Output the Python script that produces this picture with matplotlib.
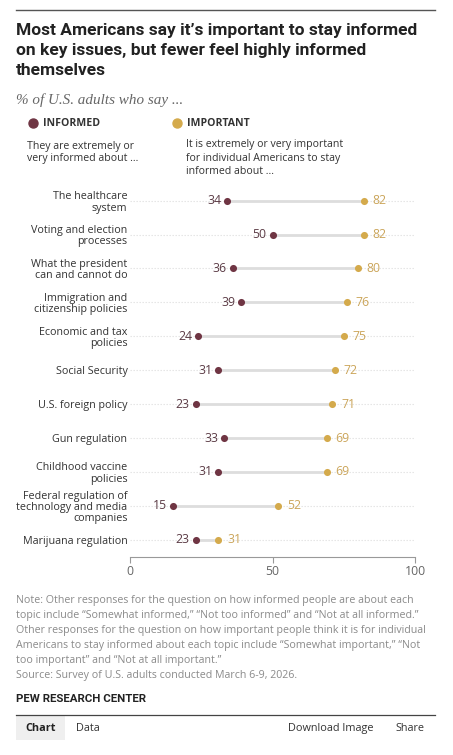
import matplotlib
matplotlib.use("Agg")
import matplotlib.pyplot as plt
from matplotlib.lines import Line2D
from matplotlib.patches import Rectangle

categories = [
    "The healthcare\nsystem",
    "Voting and election\nprocesses",
    "What the president\ncan and cannot do",
    "Immigration and\ncitizenship policies",
    "Economic and tax\npolicies",
    "Social Security",
    "U.S. foreign policy",
    "Gun regulation",
    "Childhood vaccine\npolicies",
    "Federal regulation of\ntechnology and media\ncompanies",
    "Marijuana regulation",
]
informed = [34, 50, 36, 39, 24, 31, 23, 33, 31, 15, 23]
important = [82, 82, 80, 76, 75, 72, 71, 69, 69, 52, 31]
x_ticks = [0, 50, 100]

C_INF = "#6f3543"
C_IMP = "#d4aa4c"
C_INF_TXT = "#5b3b45"
C_IMP_TXT = "#cba55a"

BODY = ["Open Sans", "DejaVu Sans"]
HEAD = ["Roboto", "DejaVu Sans"]
plt.rcParams["font.family"] = BODY

W, H = 453, 755
fig = plt.figure(figsize=(W / 100, H / 100), dpi=100)
fig.patch.set_facecolor("white")
renderer = fig.canvas.get_renderer()


def fx(x):
    return x / W


def fy(y):
    return 1 - y / H


def fit(s, target_px, base=8.0, **kw):
    t = fig.text(0, 0, s, fontsize=base, **kw)
    w = t.get_window_extent(renderer).width
    t.remove()
    return base * target_px / w


def T(x, y, s, **kw):
    kw.setdefault("va", "center")
    kw.setdefault("ha", "left")
    return fig.text(fx(x), fy(y), s, **kw)


# top rule
fig.add_artist(Line2D([fx(16), fx(435)], [fy(10), fy(10)], color="#555555", lw=1.0))

# title
title_lines = ["Most Americans say it\u2019s important to stay informed",
               "on key issues, but fewer feel highly informed",
               "themselves"]
ts = fit(title_lines[0], 401, family=HEAD, fontweight="bold")
for i, ln in enumerate(title_lines):
    T(15.5, 30.5 + i * 20, ln, fontsize=ts, fontweight="bold", family=HEAD, color="#222222")

# subtitle
sub = "% of U.S. adults who say ..."
sfam = ["Liberation Serif", "DejaVu Serif"]
ss = fit(sub, 167, family=sfam, style="italic")
T(16, 100, sub, fontsize=ss, style="italic", family=sfam, color="#666666")

# legend
ls = fit("INFORMED", 57, fontweight="bold")
fig.add_artist(Line2D([fx(33)], [fy(123)], marker="o", markersize=6.5, color=C_INF, lw=0))
T(43, 123, "INFORMED", fontsize=ls, fontweight="bold", color="#333333")
fig.add_artist(Line2D([fx(177)], [fy(123)], marker="o", markersize=6.5, color=C_IMP, lw=0))
T(187, 123, "IMPORTANT", fontsize=ls, fontweight="bold", color="#333333")
ds = fit("It is extremely or very important", 159)
T(27, 146, "They are extremely or", fontsize=ds, color="#333333")
T(27, 159, "very informed about ...", fontsize=ds, color="#333333")
T(186, 145, "It is extremely or very important", fontsize=ds, color="#333333")
T(186, 158, "for individual Americans to stay", fontsize=ds, color="#333333")
T(186, 172, "informed about ...", fontsize=ds, color="#333333")

# main axes
top_px, bot_px = 183.7, 556.7
ax = fig.add_axes([fx(130), fy(bot_px), (415 - 130) / W, (bot_px - top_px) / H])
n = len(categories)
ys = list(range(n))
ax.set_xlim(0, 100)
ax.set_ylim(n - 0.5, -0.5)

ax.hlines(ys, 0, 100, color="#e2e2e2", lw=0.8, linestyles=(0, (1.2, 1.5)), zorder=1)
ax.hlines(ys, informed, important, color="#dddddd", lw=2.0, zorder=2)
ax.scatter(informed, ys, s=26, color=C_INF, zorder=3, linewidths=0)
ax.scatter(important, ys, s=26, color=C_IMP, zorder=3, linewidths=0)

vs = fit("34", 14)
for y, a, b in zip(ys, informed, important):
    ax.annotate(str(a), (a, y), xytext=(-4.2, 0), textcoords="offset points",
                ha="right", va="center", fontsize=vs, color=C_INF_TXT)
    ax.annotate(str(b), (b, y), xytext=(6.2, 0), textcoords="offset points",
                ha="left", va="center", fontsize=vs, color=C_IMP_TXT)

cs = fit("Voting and election", 97)
ax.set_yticks(ys)
ax.set_yticklabels(categories, fontsize=cs, color="#333333", linespacing=1.05)
ax.tick_params(axis="y", length=0, pad=1.8)
ax.set_xticks(x_ticks)
xs = fit("100", 21)
ax.set_xticklabels([str(t) for t in x_ticks], fontsize=xs, color="#666666")
ax.tick_params(axis="x", length=4, width=0.8, color="#999999", pad=2)
for s in ["top", "right", "left"]:
    ax.spines[s].set_visible(False)
ax.spines["bottom"].set_color("#999999")
ax.spines["bottom"].set_linewidth(0.8)
ax.set_facecolor("none")

# notes
notes = [
    "Note: Other responses for the question on how informed people are about each",
    "topic include \u201cSomewhat informed,\u201d \u201cNot too informed\u201d and \u201cNot at all informed.\u201d",
    "Other responses for the question on how important people think it is for individual",
    "Americans to stay informed about each topic include \u201cSomewhat important,\u201d \u201cNot",
    "too important\u201d and \u201cNot at all important.\u201d",
    "Source: Survey of U.S. adults conducted March 6-9, 2026.",
]
ns = fit(notes[0], 400)
for i, ln in enumerate(notes):
    T(16, 600.3 + i * 14.95, ln, fontsize=ns, color="#8a8a8a")

ps = fit("PEW RESEARCH CENTER", 131, family=HEAD, fontweight="bold")
T(16, 699, "PEW RESEARCH CENTER", fontsize=ps, family=HEAD, fontweight="bold", color="#222222")

# bottom bar
fig.add_artist(Line2D([fx(16), fx(435)], [fy(715.3), fy(715.3)], color="#444444", lw=0.9))
fig.add_artist(Rectangle((fx(16), fy(740)), (65 - 16) / W, (740 - 716) / H,
                         facecolor="#efefef", edgecolor="none", transform=fig.transFigure))
bs = fit("Download Image", 86)
T(40.5, 728.5, "Chart", fontsize=bs, fontweight="bold", color="#222222", ha="center")
T(76, 728.5, "Data", fontsize=bs, color="#333333")
T(288, 728.5, "Download Image", fontsize=bs, color="#333333")
T(395, 728.5, "Share", fontsize=bs, color="#333333")

fig.savefig("out.png", dpi=100, facecolor="white")
